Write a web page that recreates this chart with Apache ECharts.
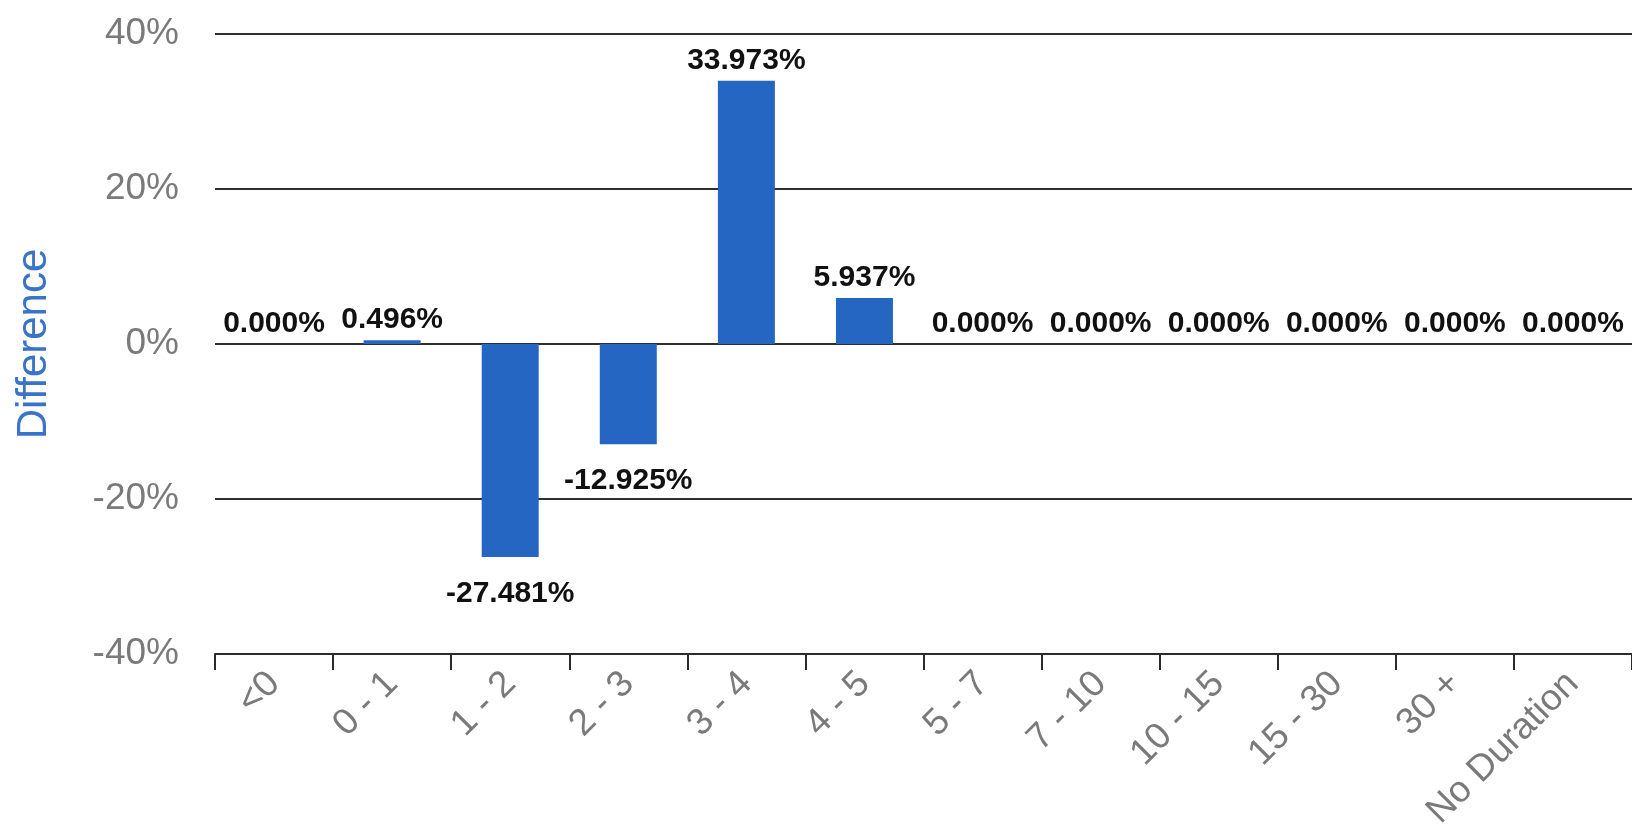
<!DOCTYPE html>
<html>
<head>
<meta charset="utf-8">
<title>Difference by Duration</title>
<script src="https://cdn.jsdelivr.net/npm/echarts@6/dist/echarts.min.js"></script>
<style>
  html, body { margin: 0; padding: 0; background: #ffffff; }
  #chart { width: 1632px; height: 839px; }
</style>
</head>
<body>
<div id="chart"></div>
<script>
// Duration buckets along the x axis
const categories = ['<0', '0 - 1', '1 - 2', '2 - 3', '3 - 4', '4 - 5', '5 - 7', '7 - 10', '10 - 15', '15 - 30', '30 +', 'No Duration'];
// Percentage difference for each bucket
const differences = [0.000, 0.496, -27.481, -12.925, 33.973, 5.937, 0.000, 0.000, 0.000, 0.000, 0.000, 0.000];
// Value axis range and step (percent)
const yMin = -40;
const yMax = 40;
const yStep = 20;

const FONT = '"Liberation Sans", Arial, Helvetica, sans-serif';
const BAR_COLOR = '#2566c2';

// Labels sit above positive/zero bars and below negative ones
const barData = differences.map(v => ({
  value: v,
  label: v < 0 ? { position: 'bottom', distance: 22 } : { position: 'top', distance: 5 }
}));

const chart = echarts.init(document.getElementById('chart'), null, { renderer: 'canvas' });

chart.setOption({
  backgroundColor: '#ffffff',
  animation: false,
  grid: { left: 215, right: -3, top: 34, bottom: 185, containLabel: false },
  xAxis: {
    type: 'category',
    data: categories,
    axisLine: { show: true, onZero: false, lineStyle: { color: '#2b2b2b', width: 2 } },
    axisTick: { show: true, length: 16, lineStyle: { color: '#2b2b2b', width: 2 } },
    axisLabel: {
      rotate: 45,
      margin: 24,
      interval: 0,
      color: '#7a7a7a',
      fontFamily: FONT,
      fontSize: 37
    },
    splitLine: { show: false }
  },
  yAxis: {
    type: 'value',
    min: yMin,
    max: yMax,
    interval: yStep,
    name: 'Difference',
    nameLocation: 'middle',
    nameGap: 160,
    nameTextStyle: { color: '#3a74c8', fontFamily: FONT, fontSize: 42 },
    axisLine: { show: false },
    axisTick: { show: false },
    axisLabel: {
      margin: 36,
      color: '#7a7a7a',
      fontFamily: FONT,
      fontSize: 37,
      formatter: v => v + '%'
    },
    splitLine: { show: true, lineStyle: { color: '#2e2e2e', width: 2 } }
  },
  series: [{
    type: 'bar',
    data: barData,
    barWidth: 57,
    itemStyle: { color: BAR_COLOR },
    label: {
      show: true,
      color: '#111111',
      fontFamily: FONT,
      fontWeight: 'bold',
      fontSize: 30,
      formatter: p => p.value.toFixed(3) + '%'
    }
  }]
});
</script>
</body>
</html>
